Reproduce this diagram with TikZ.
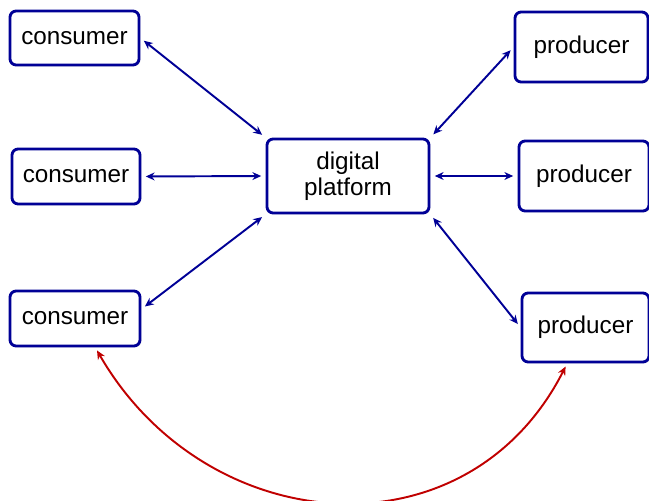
\documentclass[tikz,border=0pt]{standalone}
\usepackage{fontspec}
\setmainfont{Liberation Sans}
\usetikzlibrary{arrows.meta,shadows}

\definecolor{boxblue}{RGB}{0,0,150}
\definecolor{linkred}{RGB}{192,0,0}

\tikzset{
  party/.style={draw=boxblue, line width=1.6pt, rounded corners=3.5pt, fill=white,
    inner sep=0pt, align=center, font=\fontsize{13.8}{14.7}\selectfont,
    drop shadow={opacity=0.2, shadow xshift=0.8pt, shadow yshift=-0.8pt}},
  link/.style={boxblue, line width=1.1pt,
    {Stealth[length=5pt,width=4.5pt]}-{Stealth[length=5pt,width=4.5pt]},
    shorten <=2.5pt, shorten >=2.5pt},
}

\begin{document}
\begin{tikzpicture}

  \useasboundingbox (0,0) rectangle (12.98,-10.02);

  % consumers on the left
  \node[party, minimum width=2.58cm, minimum height=1.08cm] (cons1) at (1.49,-0.76) {consumer};
  \node[party, minimum width=2.56cm, minimum height=1.1cm] (cons2) at (1.52,-3.53) {consumer};
  \node[party, minimum width=2.6cm, minimum height=1.1cm] (cons3) at (1.50,-6.37) {consumer};

  % platform in the middle
  \node[party, minimum width=3.24cm, minimum height=1.48cm] (plat) at (6.96,-3.52) {digital\\platform};

  % producers on the right
  \node[party, minimum width=2.66cm, minimum height=1.4cm] (prod1) at (11.63,-0.94) {producer};
  \node[party, minimum width=2.6cm, minimum height=1.4cm] (prod2) at (11.68,-3.52) {producer};
  \node[party, minimum width=2.54cm, minimum height=1.38cm] (prod3) at (11.71,-6.55) {producer};

  % links through the platform
  \draw[link] (cons1.east) -- (plat.north west);
  \draw[link] (cons2.east) -- (plat.west);
  \draw[link] (cons3.8) -- (plat.south west);
  \draw[link] (plat.north east) -- (prod1.west);
  \draw[link] (plat.east) -- (prod2.west);
  \draw[link] (plat.south east) -- (prod3.west);

  % direct link
  \draw[linkred, line width=1.1pt,
    {Stealth[length=5pt,width=4.5pt]}-{Stealth[length=5pt,width=4.5pt]},
    shorten <=2pt, shorten >=2pt]
    (cons3.-55) to[out=-60, in=-117, looseness=1.2] (prod3.-117);

\end{tikzpicture}
\end{document}
